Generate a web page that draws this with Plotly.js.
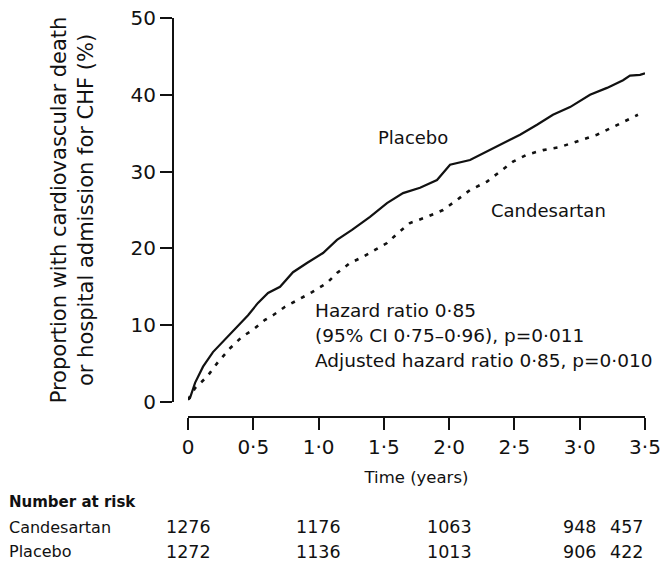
<!DOCTYPE html>
<html>
<head>
<meta charset="utf-8">
<script src="https://cdn.plot.ly/plotly-3.0.1.min.js"></script>
<style>html,body{margin:0;padding:0;background:#fff;}</style>
</head>
<body>
<div id="chart" style="width:670px;height:568px;"></div>
<script>
// Placebo (solid) cumulative event curve
const placeboTime = [0, 0.015, 0.054, 0.115, 0.191, 0.283, 0.375, 0.460, 0.536, 0.613, 0.705, 0.804, 0.911, 1.034, 1.141, 1.256, 1.394, 1.524, 1.647, 1.777, 1.907, 2.007, 2.160, 2.290, 2.412, 2.543, 2.673, 2.795, 2.926, 3.079, 3.209, 3.332, 3.385, 3.462, 3.500];
const placeboPct  = [0.3, 0.5, 2.5, 4.6, 6.5, 8.1, 9.8, 11.3, 12.9, 14.2, 15.0, 16.9, 18.1, 19.4, 21.1, 22.4, 24.1, 25.9, 27.2, 27.9, 28.9, 30.9, 31.5, 32.6, 33.7, 34.8, 36.1, 37.4, 38.4, 40.0, 40.9, 41.9, 42.5, 42.6, 42.8];

// Candesartan (dashed) cumulative event curve
const candTime = [0, 0.054, 0.146, 0.230, 0.322, 0.414, 0.498, 0.590, 0.651, 0.743, 0.842, 0.950, 1.065, 1.141, 1.241, 1.340, 1.432, 1.524, 1.608, 1.700, 1.830, 1.953, 2.060, 2.160, 2.290, 2.390, 2.489, 2.596, 2.719, 2.849, 3.002, 3.132, 3.255, 3.362, 3.446];
const candPct  = [0.3, 1.8, 3.3, 5.2, 7.0, 8.5, 9.4, 10.7, 11.3, 12.4, 13.3, 14.3, 15.5, 16.8, 18.1, 18.9, 19.8, 20.7, 22.0, 23.3, 24.1, 25.0, 26.3, 27.6, 28.7, 30.0, 31.3, 32.2, 32.8, 33.2, 34.1, 34.8, 35.8, 36.7, 37.4];

// Axis ticks
const xTickVals = [0, 0.5, 1.0, 1.5, 2.0, 2.5, 3.0, 3.5];
const xTickText = ["0", "0·5", "1·0", "1·5", "2·0", "2·5", "3·0", "3·5"];
const yTickVals = [0, 10, 20, 30, 40, 50];

// Statistics text lines
const statLines = ["Hazard ratio 0·85", "(95% CI 0·75–0·96), p=0·011", "Adjusted hazard ratio 0·85, p=0·010"];

// Number at risk table
const riskTimes = [0, 1, 2, 3, 3.5];
const riskCandesartan = [1276, 1176, 1063, 948, 457];
const riskPlacebo = [1272, 1136, 1013, 906, 422];
const riskGroups = ["Candesartan", "Placebo"];

const FONT = "DejaVu Sans, Liberation Sans, Arial, sans-serif";

const traces = [
  {
    x: placeboTime, y: placeboPct, type: "scatter", mode: "lines",
    name: "Placebo", line: {color: "#111", width: 2.2},
    hoverinfo: "skip"
  },
  {
    x: candTime, y: candPct, type: "scatter", mode: "lines",
    name: "Candesartan", line: {color: "#111", width: 2.6, dash: "4px,7px"},
    hoverinfo: "skip"
  }
];

const annotations = [
  {x: 1.72, y: 34.4, xref: "x", yref: "y", text: "Placebo", showarrow: false,
   font: {family: FONT, size: 18, color: "#111"}},
  {x: 2.76, y: 25.0, xref: "x", yref: "y", text: "Candesartan", showarrow: false,
   font: {family: FONT, size: 18, color: "#111"}}
];

const statY = [11.9, 8.6, 5.4];
statLines.forEach((s, i) => {
  annotations.push({x: 0.96, y: statY[i], xref: "x", yref: "y", xanchor: "left", yanchor: "middle",
    text: s, showarrow: false, font: {family: FONT, size: 18.5, color: "#111"}});
});

// Number at risk header and rows
const rowY = [-0.276, -0.338];
annotations.push({x: -0.352, y: -0.213, xref: "paper", yref: "paper", xanchor: "left", yanchor: "middle",
  text: "<b>Number at risk</b>", showarrow: false, font: {family: FONT, size: 15, color: "#111"}});
const riskRows = [riskCandesartan, riskPlacebo];
riskGroups.forEach((g, r) => {
  annotations.push({x: -0.352, y: rowY[r], xref: "paper", yref: "paper", xanchor: "left", yanchor: "middle",
    text: g, showarrow: false, font: {family: FONT, size: 16, color: "#111"}});
  riskTimes.forEach((t, i) => {
    annotations.push({x: t, y: rowY[r], xref: "x", yref: "paper",
      xanchor: i === riskTimes.length - 1 ? "right" : "center", yanchor: "middle",
      text: String(riskRows[r][i]), showarrow: false, font: {family: FONT, size: 17.5, color: "#111"}});
  });
});

const layout = {
  width: 670, height: 568,
  margin: {l: 173, r: 25, t: 18, b: 151},
  paper_bgcolor: "#fff", plot_bgcolor: "#fff",
  showlegend: false,
  font: {family: FONT, color: "#111"},
  xaxis: {
    domain: [0.0318, 1], range: [0, 3.5], anchor: "free", position: 0,
    showline: true, linecolor: "#111", linewidth: 2,
    ticks: "outside", ticklen: 12, tickwidth: 2, tickcolor: "#111",
    tickvals: xTickVals, ticktext: xTickText,
    tickfont: {family: FONT, size: 20, color: "#111"},
    showgrid: false, zeroline: false,
    title: {text: "Time (years)", font: {family: FONT, size: 16.5, color: "#111"}, standoff: 12},
    automargin: false, fixedrange: true
  },
  yaxis: {
    domain: [0.0376, 1], range: [0, 50], anchor: "free", position: 0,
    showline: true, linecolor: "#111", linewidth: 2,
    ticks: "outside", ticklen: 12, tickwidth: 2, tickcolor: "#111",
    tickvals: yTickVals,
    tickfont: {family: FONT, size: 20, color: "#111"},
    showgrid: false, zeroline: false,
    title: {text: "Proportion with cardiovascular death<br>or hospital admission for CHF (%)",
            font: {family: FONT, size: 21, color: "#111"}, standoff: 30},
    automargin: false, fixedrange: true
  },
  annotations: annotations
};

Plotly.newPlot("chart", traces, layout, {displayModeBar: false, staticPlot: true});
</script>
</body>
</html>
